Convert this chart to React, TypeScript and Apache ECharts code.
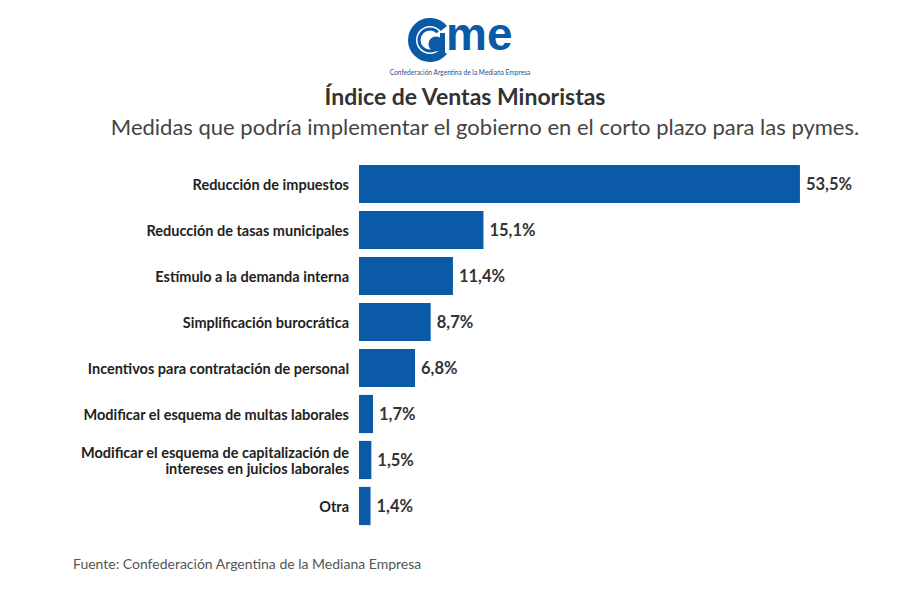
import React, { useEffect, useRef } from "react";
import * as echarts from "echarts";

const categories = [
  "Reducción de impuestos",
  "Reducción de tasas municipales",
  "Estímulo a la demanda interna",
  "Simplificación burocrática",
  "Incentivos para contratación de personal",
  "Modificar el esquema de multas laborales",
  "Modificar el esquema de capitalización de\nintereses en juicios laborales",
  "Otra",
];
const values = [53.5, 15.1, 11.4, 8.7, 6.8, 1.7, 1.5, 1.4];

const titleText = "Índice de Ventas Minoristas";
const subtitleText = "Medidas que podría implementar el gobierno en el corto plazo para las pymes.";
const sourceText = "Fuente: Confederación Argentina de la Mediana Empresa";
const logoSub = "Confederación Argentina de la Mediana Empresa";

const BLUE = "#0b5aa8";
const FONT = "Lato, 'Noto Sans', sans-serif";

export default function App() {
  const ref = useRef<HTMLDivElement>(null);
  useEffect(() => {
    if (!ref.current) return;
    const chart = echarts.init(ref.current, null, { renderer: "svg" });
    chart.setOption({
      animation: false,
      backgroundColor: "#ffffff",
      textStyle: { fontFamily: FONT },
      grid: { left: 359, top: 161, width: 494.5, height: 368 },
      xAxis: {
        type: "value",
        min: 0,
        max: 60,
        show: false,
      },
      yAxis: {
        type: "category",
        data: categories,
        inverse: true,
        axisLine: { show: false },
        axisTick: { show: false },
        splitLine: { show: false },
        axisLabel: {
          margin: 10,
          fontFamily: FONT,
          fontWeight: "bold",
          fontSize: 14.5,
          lineHeight: 16,
          color: "#222222",
          align: "right",
        },
      },
      series: [
        {
          type: "bar",
          data: values,
          barCategoryGap: "17%",
          itemStyle: { color: BLUE },
          label: {
            show: true,
            position: "right",
            distance: 6,
            fontFamily: FONT,
            fontWeight: "bold",
            fontSize: 16.5,
            color: "#333333",
            formatter: (p: any) => String(p.value).replace(".", ",") + "%",
          },
        },
      ],
      graphic: [
        {
          type: "arc",
          shape: { cx: 430, cy: 40, r: 18, startAngle: Math.PI * 0.22, endAngle: Math.PI * 1.78 },
          style: { stroke: BLUE, lineWidth: 8, fill: "none" },
        },
        {
          type: "arc",
          shape: { cx: 430, cy: 40, r: 11, startAngle: Math.PI * 0.25, endAngle: Math.PI * 1.75 },
          style: { stroke: BLUE, lineWidth: 3, fill: "none" },
        },
        {
          type: "circle",
          shape: { cx: 436, cy: 44, r: 7.5 },
          style: { fill: BLUE },
        },
        {
          type: "rect",
          shape: { x: 440, y: 33, width: 5, height: 19 },
          style: { fill: BLUE },
        },
        {
          type: "text",
          x: 446,
          y: 57,
          style: {
            text: "me",
            fontFamily: "'Liberation Sans', Arial, sans-serif",
            fontWeight: "bold",
            fontSize: 46,
            fill: BLUE,
            textVerticalAlign: "bottom",
            textAlign: "left",
          },
        },
        {
          type: "text",
          x: 460,
          y: 72,
          style: {
            text: logoSub,
            fontFamily: FONT,
            fontSize: 6.6,
            fill: "#2a4f8f",
            textAlign: "center",
            textVerticalAlign: "middle",
          },
        },
        {
          type: "text",
          x: 465,
          y: 96,
          style: {
            text: titleText,
            fontFamily: FONT,
            fontWeight: "bold",
            fontSize: 23,
            fill: "#333333",
            textAlign: "center",
            textVerticalAlign: "middle",
          },
        },
        {
          type: "text",
          x: 485,
          y: 126,
          style: {
            text: subtitleText,
            fontFamily: FONT,
            fontSize: 22,
            fill: "#444444",
            textAlign: "center",
            textVerticalAlign: "middle",
          },
        },
        {
          type: "text",
          x: 73,
          y: 563,
          style: {
            text: sourceText,
            fontFamily: FONT,
            fontSize: 14,
            fill: "#555555",
            textAlign: "left",
            textVerticalAlign: "middle",
          },
        },
      ],
    });
    return () => chart.dispose();
  }, []);
  return <div ref={ref} style={{ width: 900, height: 600, position: "absolute", left: 0, top: 0 }} />;
}
